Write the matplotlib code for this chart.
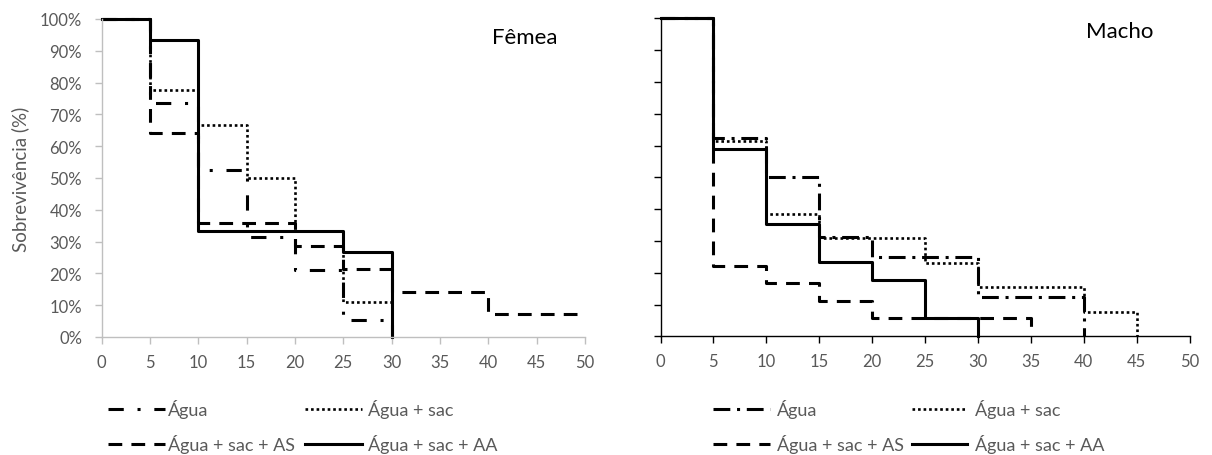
import matplotlib
matplotlib.use("Agg")
import matplotlib.pyplot as plt
from matplotlib.lines import Line2D
from matplotlib.ticker import PercentFormatter

plt.rcParams['font.family'] = ['Lato', 'DejaVu Sans']

# days (x) and survival % (y), female
agua_f_t = [0, 5, 10, 15, 20, 25, 30]
agua_f = [100, 73.7, 52.6, 31.6, 21.1, 5.3, 0]
sac_f_t = [0, 5, 10, 15, 20, 25, 30]
sac_f = [100, 77.8, 66.7, 50.0, 33.3, 11.1, 0]
as_f_t = [0, 5, 10, 15, 20, 25, 30, 35, 40, 50]
as_f = [100, 64.3, 35.7, 35.7, 28.6, 21.4, 14.3, 14.3, 7.1, 7.1]
aa_f_t = [0, 5, 10, 15, 20, 25, 30]
aa_f = [100, 93.3, 33.3, 33.3, 33.3, 26.7, 0]

# male
agua_m_t = [0, 5, 10, 15, 20, 25, 30, 35, 40]
agua_m = [100, 62.5, 50.0, 31.3, 25.0, 25.0, 12.5, 12.5, 0]
sac_m_t = [0, 5, 10, 15, 20, 25, 30, 35, 40, 45]
sac_m = [100, 61.5, 38.5, 30.8, 30.8, 23.1, 15.4, 15.4, 7.7, 0]
as_m_t = [0, 5, 10, 15, 20, 25, 30, 35]
as_m = [100, 22.2, 16.7, 11.1, 5.6, 5.6, 5.6, 0]
aa_m_t = [0, 5, 10, 15, 20, 25, 30]
aa_m = [100, 58.8, 35.3, 23.5, 17.6, 5.9, 0]

labels = ["Água", "Água + sac", "Água + sac + AS", "Água + sac + AA"]
x_ticks = list(range(0, 51, 5))
y_ticks = list(range(0, 101, 10))

W, H = 1212, 456
GREY = "#595959"

fig = plt.figure(figsize=(W / 100, H / 100), dpi=100)


def box(x0, x1, ytop, ybot):
    return [x0 / W, 1 - ybot / H, (x1 - x0) / W, (ybot - ytop) / H]


ax1 = fig.add_axes(box(101.5, 585, 20, 338))
ax2 = fig.add_axes(box(660.5, 1189.5, 19.3, 337.3))

styles_f = [dict(lw=2.2, dashes=(5, 4.5, 1, 4.5)),
            dict(lw=1.9, dashes=(1, 1.1)),
            dict(lw=2.2, dashes=(4.5, 3)),
            dict(lw=2.2)]
styles_m = [dict(lw=2.2, dashes=(5.5, 2.2, 1, 2.2)),
            dict(lw=1.9, dashes=(1, 1.1)),
            dict(lw=2.2, dashes=(4.5, 3)),
            dict(lw=2.2)]

series_f = [(agua_f_t, agua_f), (sac_f_t, sac_f), (as_f_t, as_f), (aa_f_t, aa_f)]
series_m = [(agua_m_t, agua_m), (sac_m_t, sac_m), (as_m_t, as_m), (aa_m_t, aa_m)]

for ax, series, styles, spine_col in [(ax1, series_f, styles_f, "#bfbfbf"),
                                      (ax2, series_m, styles_m, "black")]:
    for (t, s), st, lab in zip(series, styles, labels):
        ax.step(t, s, where="post", color="black", label=lab, clip_on=False, **st)
    ax.set_xlim(0, 50)
    ax.set_ylim(0, 100)
    ax.set_xticks(x_ticks)
    ax.set_yticks(y_ticks)
    for sp in ["top", "right"]:
        ax.spines[sp].set_visible(False)
    for sp in ["left", "bottom"]:
        ax.spines[sp].set_color(spine_col)
        ax.spines[sp].set_linewidth(1.0)
    ax.tick_params(colors=spine_col, labelcolor=GREY, labelsize=12,
                   length=5, width=1.0, direction="out")
    ax.tick_params(axis="x", pad=7)
    ax.tick_params(axis="y", pad=9)

ax1.yaxis.set_major_formatter(PercentFormatter(decimals=0))
ax2.tick_params(axis="y", labelleft=False)
ax1.set_ylabel("Sobrevivência (%)", color=GREY, fontsize=13.5, va="center")
ax1.yaxis.set_label_coords((20 - 101.5) / (585 - 101.5), 0.5)

fig.text(525 / W, 1 - 38 / H, "Fêmea", fontsize=16, color="black", ha="center", va="center")
fig.text(1120 / W, 1 - 32 / H, "Macho", fontsize=16, color="black", ha="center", va="center")

# legends drawn below each panel
leg_pos = [
    # (handles x of col1, text x col1, handles x col2, text x col2), styles
    ((108, 165), 168, (305, 362), 368, styles_f),
    ((713, 770), 777, (912, 967), 975, styles_m),
]
rows = [410, 445]
for h1, t1, h2, t2, styles in leg_pos:
    cells = [(h1, t1, rows[0]), (h2, t2, rows[0]), (h1, t1, rows[1]), (h2, t2, rows[1])]
    for (hx, tx, ry), st, lab in zip(cells, styles, labels):
        fig.add_artist(Line2D([hx[0] / W, hx[1] / W], [1 - ry / H, 1 - ry / H],
                              color="black", transform=fig.transFigure, **st))
        fig.text(tx / W, 1 - ry / H, lab, color=GREY, fontsize=13,
                 ha="left", va="center")

fig.savefig("out.png", dpi=100)
